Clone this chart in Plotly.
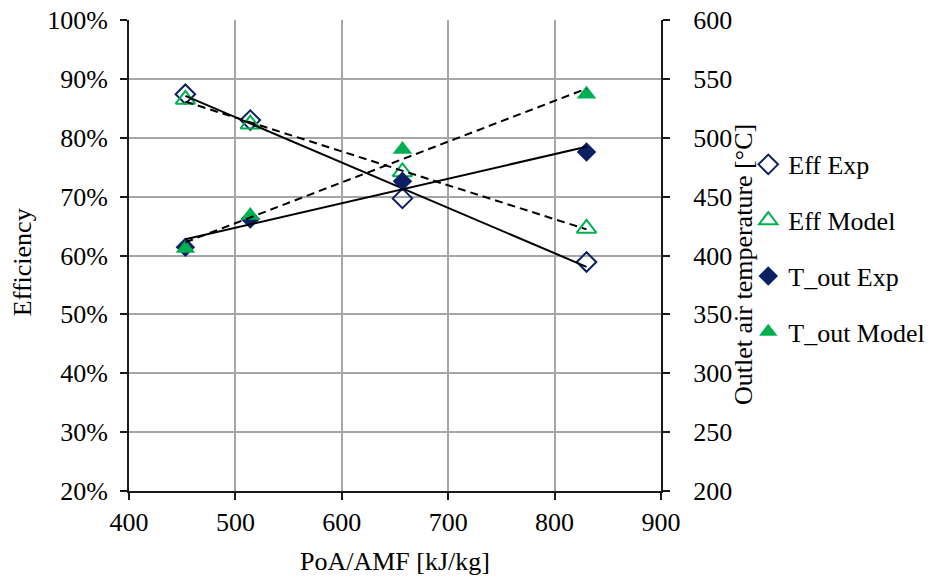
import numpy as np
import plotly.graph_objects as go

# Data
poa_amf = [453, 514, 657, 830]                 # PoA/AMF [kJ/kg]
eff_exp = [0.874, 0.830, 0.697, 0.589]          # Efficiency (experiment)
eff_model = [0.865, 0.823, 0.742, 0.646]        # Efficiency (model)
tout_exp = [407, 431, 463, 488]                 # Outlet air temperature [°C] (experiment)
tout_model = [406, 434, 490, 537]               # Outlet air temperature [°C] (model)

NAVY = "#0B1F63"
GREEN = "#00B050"
FONT = "Liberation Serif, Times New Roman, serif"

fig = go.Figure()

fig.add_trace(go.Scatter(x=poa_amf, y=eff_exp, mode="markers", name="Eff Exp",
                         legendgroup="a",
                         marker=dict(symbol="diamond-open", size=15, color=NAVY,
                                     line=dict(width=2, color=NAVY))))
fig.add_trace(go.Scatter(x=poa_amf, y=eff_model, mode="markers", name="Eff Model",
                         legendgroup="b",
                         marker=dict(symbol="triangle-up-open", size=17, color=GREEN,
                                     line=dict(width=2, color=GREEN))))
fig.add_trace(go.Scatter(x=poa_amf, y=tout_exp, mode="markers", name="T_out Exp",
                         legendgroup="c", yaxis="y2",
                         marker=dict(symbol="diamond", size=15, color=NAVY)))
fig.add_trace(go.Scatter(x=poa_amf, y=tout_model, mode="markers", name="T_out Model",
                         legendgroup="d", yaxis="y2",
                         marker=dict(symbol="triangle-up", size=17, color=GREEN)))

# Linear trendlines fitted to each series
xs = np.array([min(poa_amf), max(poa_amf)])
def trend(yvals):
    k, b = np.polyfit(poa_amf, yvals, 1)
    return k * xs + b

fig.add_trace(go.Scatter(x=xs, y=trend(eff_exp), mode="lines", showlegend=False,
                         line=dict(color="black", width=2), hoverinfo="skip"))
fig.add_trace(go.Scatter(x=xs, y=trend(eff_model), mode="lines", showlegend=False,
                         line=dict(color="black", width=2, dash="8px,5px"), hoverinfo="skip"))
fig.add_trace(go.Scatter(x=xs, y=trend(tout_exp), mode="lines", showlegend=False, yaxis="y2",
                         line=dict(color="black", width=2), hoverinfo="skip"))
fig.add_trace(go.Scatter(x=xs, y=trend(tout_model), mode="lines", showlegend=False, yaxis="y2",
                         line=dict(color="black", width=2, dash="8px,5px"), hoverinfo="skip"))

axis_common = dict(showline=True, linecolor="#1a1a1a", linewidth=2,
                   ticks="outside", ticklen=7, tickwidth=1.5, tickcolor="#1a1a1a",
                   tickfont=dict(family=FONT, size=26, color="black"),
                   zeroline=False, automargin=False, ticklabeloverflow="allow")

fig.update_layout(
    width=930, height=576,
    margin=dict(l=129, r=269, t=20, b=85, autoexpand=False),
    paper_bgcolor="white", plot_bgcolor="white",
    font=dict(family=FONT, size=26, color="black"),
    showlegend=True,
    legend=dict(x=1.164, y=0.515, xanchor="left", yanchor="middle",
                font=dict(family=FONT, size=26, color="black"),
                tracegroupgap=19, itemwidth=30, bgcolor="rgba(0,0,0,0)"),
    xaxis=dict(range=[400, 900], dtick=100, tick0=400,
               showgrid=True, gridcolor="#A6A6A6", gridwidth=1.5,
               title=dict(text="PoA/AMF [kJ/kg]", font=dict(family=FONT, size=26), standoff=17),
               **axis_common),
    yaxis=dict(range=[0.2, 1.0], dtick=0.1, tick0=0.2, tickformat=".0%",
               showgrid=True, gridcolor="#A6A6A6", gridwidth=1.5, ticklabelstandoff=7,
               **axis_common),
    yaxis2=dict(range=[200, 600], dtick=50, tick0=200, overlaying="y", side="right",
                showgrid=False, ticklabelstandoff=18,
                **axis_common),
    annotations=[
        dict(text="Efficiency", xref="paper", yref="paper", x=-0.201, y=0.486,
             textangle=-90, showarrow=False, xanchor="center", yanchor="middle",
             font=dict(family=FONT, size=26, color="black")),
        dict(text="Outlet air temperature [°C]", xref="paper", yref="paper", x=1.156, y=0.482,
             textangle=-90, showarrow=False, xanchor="center", yanchor="middle",
             font=dict(family=FONT, size=26, color="black")),
    ],
)

fig.write_html("out.html", config={"displayModeBar": False},
               post_script="document.body.style.margin='0';document.body.style.overflow='hidden';")
